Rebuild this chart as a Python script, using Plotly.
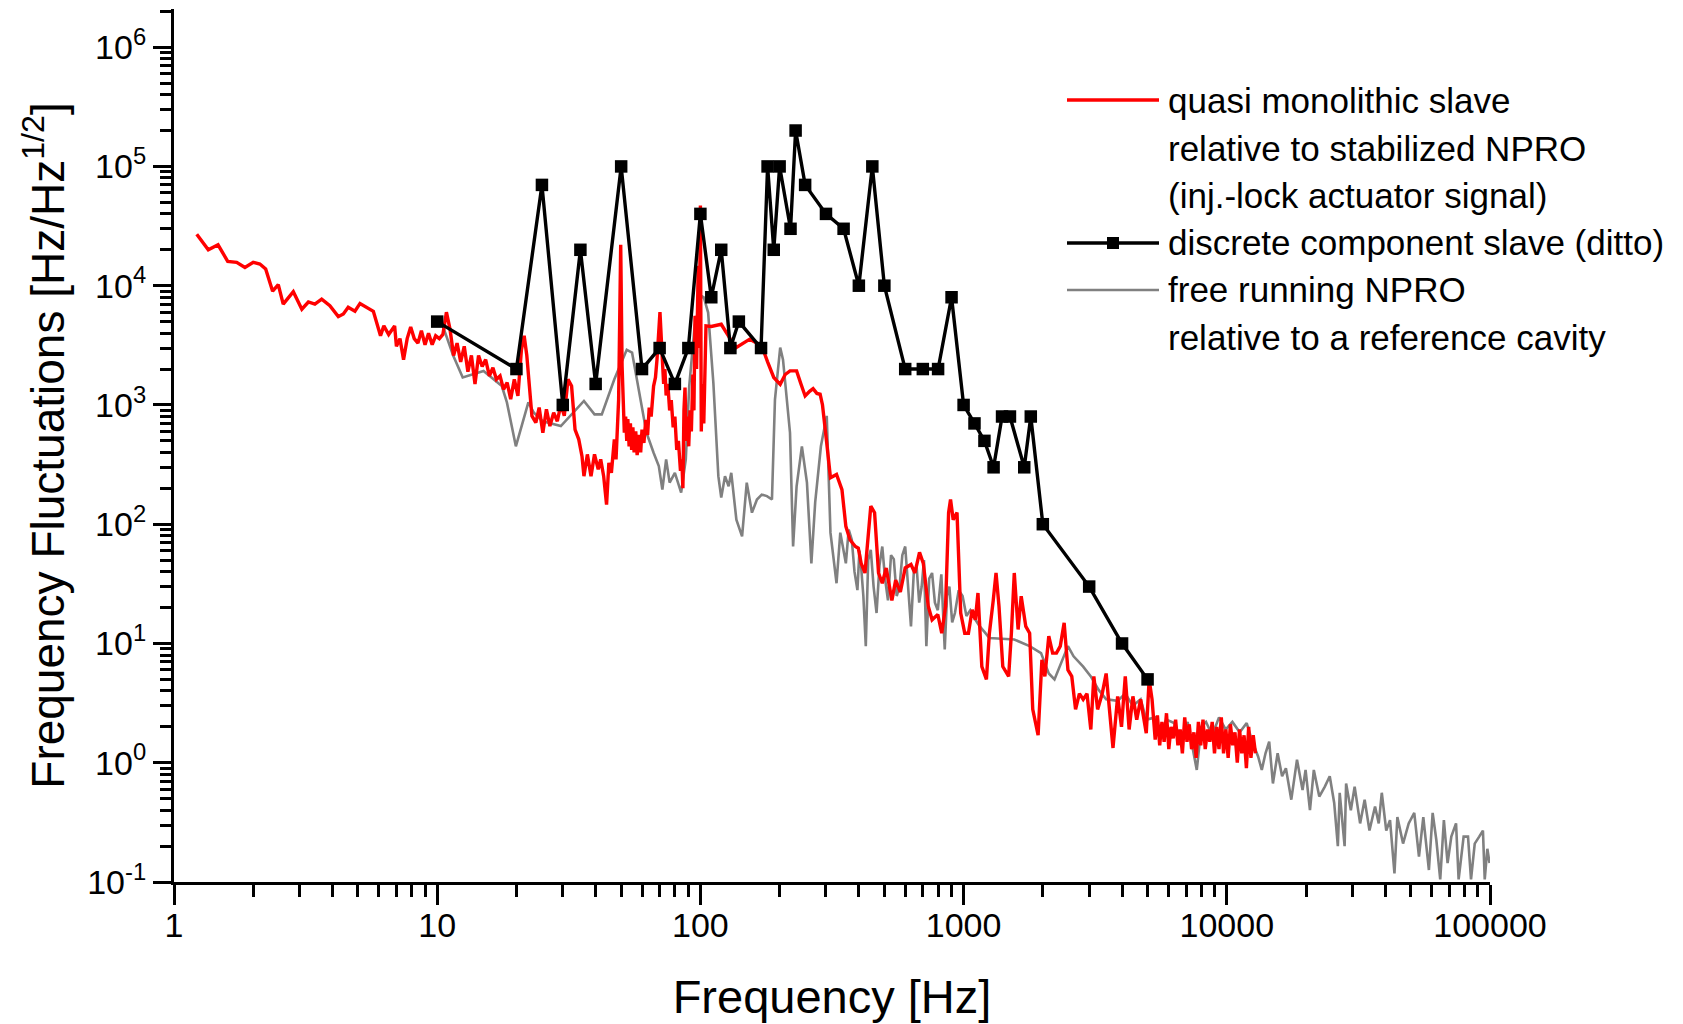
# Frequency noise spectra of injection-locked slaves vs. free running NPRO
import plotly.graph_objects as go

# quasi monolithic slave (red)
red_f = [1.22, 1.35, 1.47, 1.60, 1.73, 1.86, 2.0, 2.12, 2.23, 2.37, 2.49, 2.60, 2.84, 3.06, 3.24,
         3.43, 3.64, 3.91, 4.21, 4.40, 4.59, 4.87, 5.09, 5.40, 5.72,
         6.09, 6.27, 6.54, 6.89, 7.0, 7.22, 7.45, 7.69, 7.93, 8.18, 8.45, 8.71, 8.99, 9.27, 9.57,
         9.87, 10.19, 10.51, 10.84, 11.19, 11.54, 11.9, 12.28, 12.67, 13.08, 13.49, 13.92, 14.36,
         14.82, 15.28, 15.78, 16.28, 16.79, 17.33, 17.87, 18.44, 19.02, 19.63, 20.26, 20.89, 21.4,
         21.9, 22.4, 22.9, 23.7, 24.4, 25.2, 26.0, 26.8, 27.7, 28.6, 29.5, 30.4, 31.4, 32.4, 33.4,
         34.5, 35.5, 36.1, 37.2, 38.4, 39.6, 40.9, 41.8, 42.9, 44.0, 44.9, 45.9, 47.1, 47.8, 48.9,
         49.8, 50.4, 51.4, 52.0, 52.5, 53.0, 53.6, 54.2, 54.8, 55.4, 56.0, 56.8, 57.5, 58.6, 59.3,
         60.0, 61.0, 62.0, 63.0, 63.9, 65.0, 66.4, 67.5, 68.4, 70.2, 71.7, 72.5, 73.3, 74.1, 75.2,
         76.4, 77.5, 78.8, 80.0, 81.3, 82.5, 84.0, 85.0, 85.8, 86.6, 87.4, 88.3, 89.3, 90.3, 91.3,
         92.4, 93.6, 94.5, 95.4, 96.7, 98.1, 99.0, 100,
         100.8, 101.5, 103, 105, 110, 120, 130, 137, 154, 171, 180, 190, 201, 210, 219, 232, 241,
         250, 260, 268, 277, 285, 291, 297, 302,
         312, 329, 345, 357, 370, 388, 398, 408, 422, 433, 444, 459, 475, 491, 508, 534, 552, 575,
         600, 631, 653, 680, 703, 734, 759, 798, 826, 854, 877, 892, 913, 944, 975, 1010,
         1043, 1078, 1108, 1134, 1173, 1221, 1253, 1296, 1328, 1363, 1409, 1483, 1519, 1558, 1611,
         1655, 1723, 1782, 1831, 1919, 1984, 2036, 2107, 2179, 2253, 2330, 2410, 2491, 2576, 2663,
         2754, 2847, 2943, 3043, 3125, 3230, 3363, 3480, 3598, 3695, 3849, 3980, 4114, 4255, 4398,
         4548, 4706, 4943, 5070, 5200, 5345,
         5450, 5560, 5670, 5780, 5900, 6020, 6140, 6260, 6390, 6520, 6650, 6780, 6920, 7060, 7200,
         7350, 7500, 7650, 7800, 7960, 8120, 8280, 8450, 8620, 8800, 8980, 9160, 9340, 9530, 9720,
         9920, 10120, 10320, 10530, 10740, 10960, 11180, 11400, 11630, 11870, 12110, 12350, 12600,
         12850]
red_v = [27000, 20000, 22000, 16000, 15700, 14200, 15700, 15200, 13800, 9000, 10200, 7000, 8900,
         6350, 7300, 7000, 7700, 6800, 5500, 5800, 6600, 6100, 7100, 6600, 6100,
         3800, 4600, 3900, 4600, 3100, 3600, 2400, 3600, 4500, 3600, 3300, 4200, 3200, 4000, 3200,
         3800, 3600, 3900, 6000, 4300, 2600, 3300, 2300, 3100, 1900, 2600, 1500, 2600,
         2100, 2400, 1750, 2050, 1640, 1750, 1350, 1540, 1120, 1640, 1190, 2900, 3800,
         2600, 1440, 810, 710, 950, 585, 920, 665, 860, 730, 1010, 810, 1640, 1440, 620,
         515, 370, 253, 385, 253, 385, 288, 350, 253, 146, 327, 270, 515, 350, 1110,
         22000, 2120, 585, 800, 500, 760, 450, 700, 420, 650, 400, 600, 380, 560, 400,
         620, 480, 750, 560, 950, 800, 1440, 1700, 2400, 6000, 2400, 1500, 2000, 1200, 1500,
         900, 1100, 650, 800, 420, 500, 280, 350, 200, 900, 1400, 500, 800, 450, 900,
         600, 1800, 900, 5600, 2000, 14700, 3000, 47000,
         600, 1500, 700, 4600, 4550, 4750, 3560, 3030, 3560, 3130, 2300, 1700, 1490, 1800, 1930,
         1930, 1500, 1190, 1300, 1370, 1250, 1230, 1000, 620, 480,
         245, 261, 195, 96, 74, 65, 63, 47, 39, 80, 142, 125, 39, 32, 43, 23, 34, 27,
         43, 46, 39, 58, 47, 20.5, 15.8, 17.5, 12.2, 20.5, 125, 161, 109, 125, 18, 12.2,
         12.2, 19.2, 15.8, 26.5, 6.4, 5.0, 12.2, 23, 39, 20.5, 6.4, 5.3, 12.2, 39, 13.1,
         24.9, 13.9, 12.2, 2.8, 1.7, 7.3, 5.3, 11.5, 8.3, 8.3, 9.5, 14.9, 6.0, 5.3, 2.8,
         3.8, 3.4, 3.8, 1.9, 5.3, 2.8, 3.8, 5.6, 2.4, 1.33, 3.6, 2.0, 5.3, 1.9, 3.6,
         2.3, 3.4, 1.77, 5.0, 3.4, 1.56,
         2.5, 1.4, 2.2, 1.5, 2.6, 1.3, 2.0, 1.6, 2.3, 1.4, 1.9, 1.2, 2.4, 1.5, 2.1,
         1.3, 1.8, 1.1, 2.2, 1.4, 2.3, 1.3, 1.9, 1.5, 2.2, 1.2, 2.0, 1.3, 2.4, 1.2,
         1.9, 1.1, 2.1, 1.4, 1.8, 1.0, 1.9, 1.2, 1.7, 0.9, 2.0, 1.1, 1.7,
         1.2]

# discrete component slave (black squares)
black_f = [10, 20, 25, 30, 35, 40, 50, 60, 70, 80, 90, 100, 110, 120, 130, 140, 170, 180, 190,
           200, 220, 230, 250, 300, 350, 400, 450, 500, 600, 700, 800, 900, 1000, 1100, 1200,
           1300, 1400, 1500, 1700, 1800, 2000, 3000, 4000, 5000]
black_v = [5000, 2000, 70000, 1000, 20000, 1500, 100000, 2000, 3000, 1500, 3000, 40000, 8000,
           20000, 3000, 5000, 3000, 100000, 20000, 100000, 30000, 200000, 70000, 40000, 30000,
           10000, 100000, 10000, 2000, 2000, 2000, 8000, 1000, 700, 500, 300, 800, 800, 300, 800,
           100, 30, 10, 5]

# free running NPRO (gray)
gray_f = [10.5, 11.5, 12.5, 15.0, 17.6, 18.4, 19.9, 22.2, 23.3, 25.2, 29.5, 32.9, 36.1, 39.6,
          42.2, 47.1, 52.5, 55.0, 59.6, 62.4, 66.4, 69.5, 71.7, 74.1, 76.4, 80, 84.5, 88, 90.7,
          95.1, 101,
          103, 107, 112, 117, 120, 124, 128, 131, 137, 144, 150, 157, 164, 171, 179, 187, 192, 201,
          206, 219, 225, 232, 243, 254, 264, 273, 287, 302, 312, 329, 340,
          357, 366, 376, 385, 395, 402, 408, 416, 425, 434, 444, 455, 467, 479, 491, 503, 516,
          530, 543, 557, 571, 585, 600, 615, 631, 647, 663, 678, 693, 707, 722, 740, 759, 778,
          798, 823, 848, 865, 883, 905, 927, 958, 991, 1025, 1060, 1105, 1152, 1200, 1253,
          1558, 1782, 1969, 2107, 2215, 2367, 2491, 2617, 2847, 3043, 3254, 3480, 3849, 4114,
          4398, 4706, 4943,
          5370, 5600, 5900, 6310, 6700, 7100, 7690, 8000, 8340, 8800, 9340, 9900, 10500, 11200,
          11900, 12500,
          13150, 13580, 14030, 14490, 14970, 15600, 16220, 16770, 17580, 18480, 19400, 19920,
          20700, 21410, 22460, 23580, 24610, 25590, 26420, 26850, 28030, 28400, 29600, 30600,
          32100, 33400, 34840, 36580, 37780, 38800, 40350, 41700, 43350, 44470, 46740, 49100,
          51550, 53720, 55800, 58600, 60550, 62530, 64700, 66800, 69000, 71300, 74300, 76000,
          79400, 82500, 84700, 87500, 91000, 94000, 95500, 97700, 99600]
gray_v = [4600, 2600, 1700, 1930, 1440, 1050, 450, 1050, 860, 730, 665, 860, 1080, 834,
          834, 1640, 2900, 2750, 980, 585, 397, 307, 195, 350, 223, 270, 184, 350, 1440,
          4600, 8200,
          8000, 5950, 1540, 253, 167, 253, 208, 270, 109, 79, 223, 125, 161, 177, 172, 161, 1110,
          3030, 2400, 585, 65, 208, 450, 223, 47, 153, 450, 810, 85, 32, 85,
          47, 90, 74, 40, 28, 60, 44, 25, 9.5, 50, 61, 30, 18, 45, 65, 35, 23,
          55, 51, 25, 30, 55, 65, 30, 13.9, 40, 44, 22, 30, 50, 9.5, 35, 39, 22,
          19, 38, 8.9, 25, 30, 15, 18, 28, 25, 17, 19, 16, 13.9, 12.5, 11.1,
          10.8, 9.5, 8.3, 5.6, 5.0, 7.3, 9.5, 7.8, 6.4, 5.3, 4.1, 3.4, 3.3, 3.8,
          3.0, 3.4, 2.3,
          2.4, 1.8, 2.3, 2.15, 1.6, 2.2, 0.87, 2.0, 2.2, 1.7, 2.4, 1.9, 2.2, 1.8,
          2.15, 1.5,
          1.13, 0.87, 1.2, 1.5, 0.67, 1.2, 0.77, 0.90, 0.49, 1.06, 0.59, 0.87,
          0.40, 0.87, 0.52, 0.63, 0.77, 0.46, 0.20, 0.56, 0.20, 0.67, 0.40, 0.63,
          0.31, 0.49, 0.27, 0.43, 0.31, 0.56, 0.27, 0.33, 0.118, 0.35, 0.21, 0.31,
          0.38, 0.163, 0.35, 0.126, 0.38, 0.225, 0.105, 0.33, 0.144, 0.24, 0.31, 0.105,
          0.24, 0.24, 0.105, 0.21, 0.24, 0.27, 0.105, 0.19, 0.144]

x_tick_vals = [1, 10, 100, 1000, 10000, 100000]
x_tick_text = ["1", "10", "100", "1000", "10000", "100000"]
y_tick_vals = [0.1, 1, 10, 100, 1000, 10000, 100000, 1000000]
y_tick_text = ["10<sup>-1</sup>", "10<sup>0</sup>", "10<sup>1</sup>", "10<sup>2</sup>",
               "10<sup>3</sup>", "10<sup>4</sup>", "10<sup>5</sup>", "10<sup>6</sup>"]

legend_lines = ["quasi monolithic slave", "relative to stabilized NPRO",
                "(inj.-lock actuator signal)", "discrete component slave (ditto)",
                "free running NPRO", "relative to a reference cavity"]

FONT = "Liberation Sans, Arial, sans-serif"
# the page body has an 8 px margin, so the figure is 8 px smaller than the window
W, H = 1675, 1016
L, R, T, B = 166, 193, 1, 142
PW, PH = W - L - R, H - T - B


# window pixel -> paper coordinate (plot area spans 174..1490 x 9..882 in the window)
def px(x):
    return (x - 8 - L) / PW


def py(y):
    return (H - B - (y - 8)) / PH


fig = go.Figure()
fig.add_trace(go.Scatter(x=gray_f, y=gray_v, mode="lines",
                         line=dict(color="#808080", width=2.6), showlegend=False))
fig.add_trace(go.Scatter(x=red_f, y=red_v, mode="lines",
                         line=dict(color="#FF0000", width=3.4), showlegend=False))
fig.add_trace(go.Scatter(x=black_f, y=black_v, mode="lines+markers",
                         line=dict(color="black", width=3.4),
                         marker=dict(symbol="square", size=12.5, color="black"),
                         showlegend=False))

# hand-made legend
shapes = [
    dict(type="line", xref="paper", yref="paper", x0=px(1067), x1=px(1159), y0=py(100), y1=py(100),
         line=dict(color="#FF0000", width=3.4)),
    dict(type="line", xref="paper", yref="paper", x0=px(1067), x1=px(1159), y0=py(243), y1=py(243),
         line=dict(color="black", width=3.4)),
    dict(type="rect", xref="paper", yref="paper", x0=px(1107), x1=px(1119), y0=py(237), y1=py(249),
         fillcolor="black", line=dict(width=0)),
    dict(type="line", xref="paper", yref="paper", x0=px(1067), x1=px(1159), y0=py(290), y1=py(290),
         line=dict(color="#808080", width=2.6)),
]
annotations = []
for i, txt in enumerate(legend_lines):
    annotations.append(dict(text=txt, xref="paper", yref="paper", x=px(1166), y=py(101 + 47.2 * i),
                            xanchor="left", yanchor="middle", showarrow=False,
                            font=dict(family=FONT, size=35, color="black")))

axis_common = dict(type="log", showline=True, linewidth=3, linecolor="black", mirror=False,
                   showgrid=False, zeroline=False, ticks="outside", tickwidth=3, tickcolor="black",
                   tickfont=dict(family=FONT, size=34, color="black"), automargin=False)

fig.update_layout(
    width=W, height=H,
    margin=dict(l=L, r=R, t=T, b=B),
    paper_bgcolor="white", plot_bgcolor="white",
    font=dict(family=FONT, color="black"),
    shapes=shapes, annotations=annotations,
    xaxis=dict(axis_common, range=[0, 5], tickmode="array", tickvals=x_tick_vals,
               ticktext=x_tick_text, ticklen=20, ticklabelstandoff=-9,
               minor=dict(ticks="outside", ticklen=12, tickwidth=2.5, tickcolor="black", dtick="D1"),
               title=dict(text="Frequency [Hz]", font=dict(family=FONT, size=47), standoff=38)),
    yaxis=dict(axis_common, range=[-1, 6.32], tickmode="array", tickvals=y_tick_vals,
               ticktext=y_tick_text, ticklen=18,
               minor=dict(ticks="outside", ticklen=11, tickwidth=2.5, tickcolor="black", dtick="D1"),
               title=dict(text="Frequency Fluctuations [Hz/Hz<sup>1/2</sup>]",
                          font=dict(family=FONT, size=46), standoff=9)),
)

fig.write_html("out.html")
